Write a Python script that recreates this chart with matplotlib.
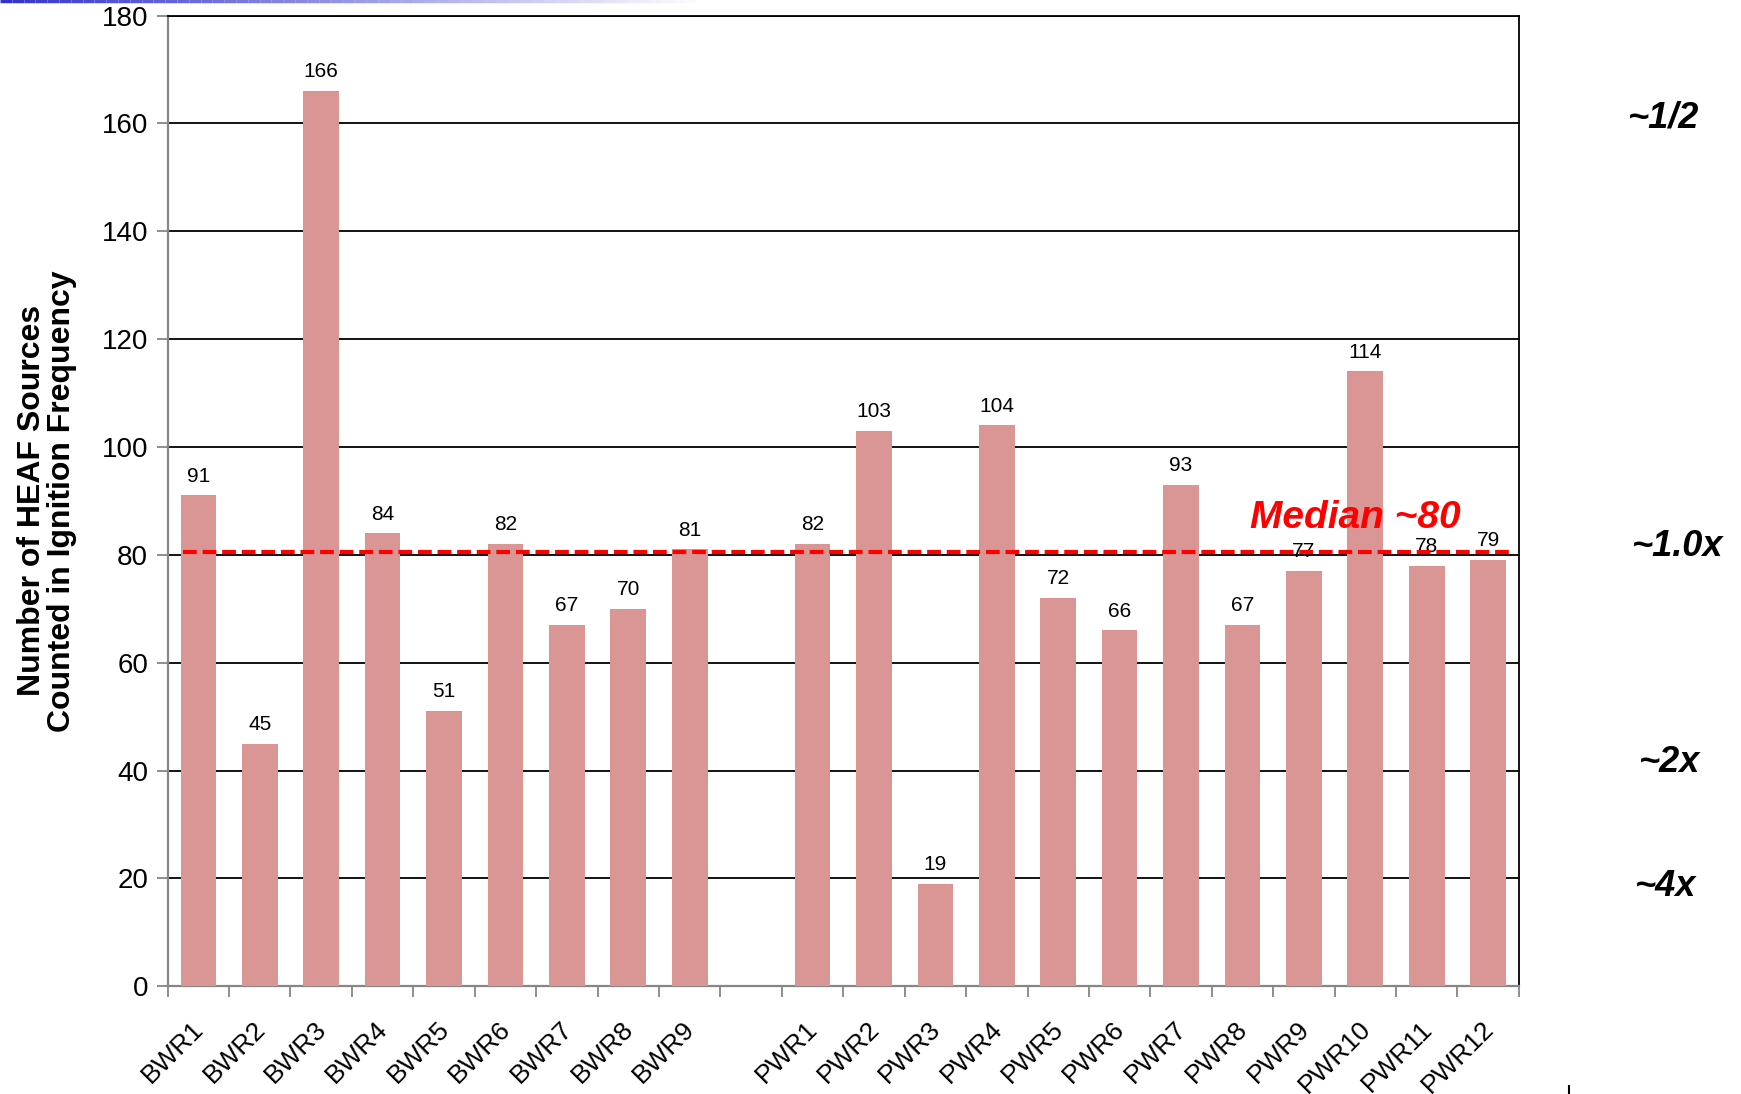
import matplotlib
matplotlib.use("Agg")
import matplotlib.pyplot as plt
import matplotlib.transforms as mtransforms
import numpy as np
from matplotlib.collections import LineCollection
from matplotlib.lines import Line2D

plt.rcParams['font.family'] = ['Liberation Sans', 'DejaVu Sans']

bwr_labels = ["BWR1", "BWR2", "BWR3", "BWR4", "BWR5", "BWR6", "BWR7", "BWR8", "BWR9"]
bwr_values = [91, 45, 166, 84, 51, 82, 67, 70, 81]
pwr_labels = ["PWR1", "PWR2", "PWR3", "PWR4", "PWR5", "PWR6", "PWR7", "PWR8",
              "PWR9", "PWR10", "PWR11", "PWR12"]
pwr_values = [82, 103, 19, 104, 72, 66, 93, 67, 77, 114, 78, 79]
median_value = 80.5
y_ticks = [0, 20, 40, 60, 80, 100, 120, 140, 160, 180]
side_notes = ["~1/2", "~1.0x", "~2x", "~4x"]
side_note_levels = [161, 81.5, 41.5, 18.5]

labels = bwr_labels + [""] + pwr_labels
values = bwr_values + [np.nan] + pwr_values
x = np.arange(len(labels))

fig = plt.figure(figsize=(17.41, 10.94), dpi=100)
ax = fig.add_axes([0.0963, 0.0985, 0.7761, 0.8873])

bar_color = '#D99694'
ax.bar(x, values, width=0.58, color=bar_color, zorder=3)

for xi, v in zip(x, values):
    if not np.isnan(v):
        ax.annotate(f"{v:g}", (xi, v), xytext=(0, 7), textcoords='offset points',
                    ha='center', va='bottom', fontsize=15, color='black', zorder=5)

ax.set_xlim(-0.5, len(labels) - 0.5)
ax.set_ylim(0, 180)
ax.set_yticks(y_ticks)
ax.set_yticklabels([str(t) for t in y_ticks], fontsize=20)
ax.yaxis.grid(True, color='black', linewidth=1.3, zorder=0)
ax.set_axisbelow(True)

ax.set_xticks(x)
ax.set_xticklabels(labels, rotation=45, ha='right', rotation_mode='anchor', fontsize=19)
ax.tick_params(axis='x', length=0, pad=22)
ax.set_xticks(np.arange(-0.5, len(labels), 1.0), minor=True)
ax.tick_params(axis='x', which='minor', length=8, color='#868686', width=1.3, direction='out')
ax.tick_params(axis='y', length=8, color='#868686', width=1.3, direction='out', pad=6)
for lbl in ax.get_xticklabels():
    lbl.set_transform(lbl.get_transform() + mtransforms.ScaledTranslation(-0.07, 0, fig.dpi_scale_trans))

for s in ['left', 'bottom']:
    ax.spines[s].set_color('#868686')
    ax.spines[s].set_linewidth(1.6)
for s in ['top', 'right']:
    ax.spines[s].set_color('black')
    ax.spines[s].set_linewidth(1.3)

ax.set_ylabel("Number of HEAF Sources\nCounted in Ignition Frequency",
              fontsize=23, fontweight='bold', labelpad=18, linespacing=1.0)

ax.plot([-0.25, len(labels) - 0.6], [median_value, median_value], color='#FF0000',
        linewidth=3, linestyle=(0, (3.3, 1.4)), zorder=6)
ax.text(18.83, 86.8, "Median ~80", color='#FF0000', fontsize=28, fontweight='bold',
        fontstyle='italic', ha='center', va='center', zorder=7)

blend = mtransforms.blended_transform_factory(fig.transFigure, ax.transData)
note_x = [0.9349, 0.9375, 0.9413, 0.9388]
for note, lvl, nx in zip(side_notes, side_note_levels, note_x):
    ax.text(nx, lvl, note, transform=blend, fontsize=26,
            fontweight='bold', fontstyle='italic', ha='left', va='center', clip_on=False)

# decorative gradient line at top-left
xs = np.linspace(0, 0.4, 60)
segs = [[(xs[i], 0.999), (xs[i + 1], 0.999)] for i in range(len(xs) - 1)]
cols = [(0.2, 0.2, 0.8, 1 - i / (len(xs) - 1)) for i in range(len(xs) - 1)]
fig.add_artist(LineCollection(segs, colors=cols, linewidths=2.5, transform=fig.transFigure))

# small stray mark at bottom right
fig.add_artist(Line2D([0.9011, 0.9011], [0.0, 0.0075], color='black', linewidth=1.5,
                      transform=fig.transFigure))

fig.savefig("out.png", dpi=100)
